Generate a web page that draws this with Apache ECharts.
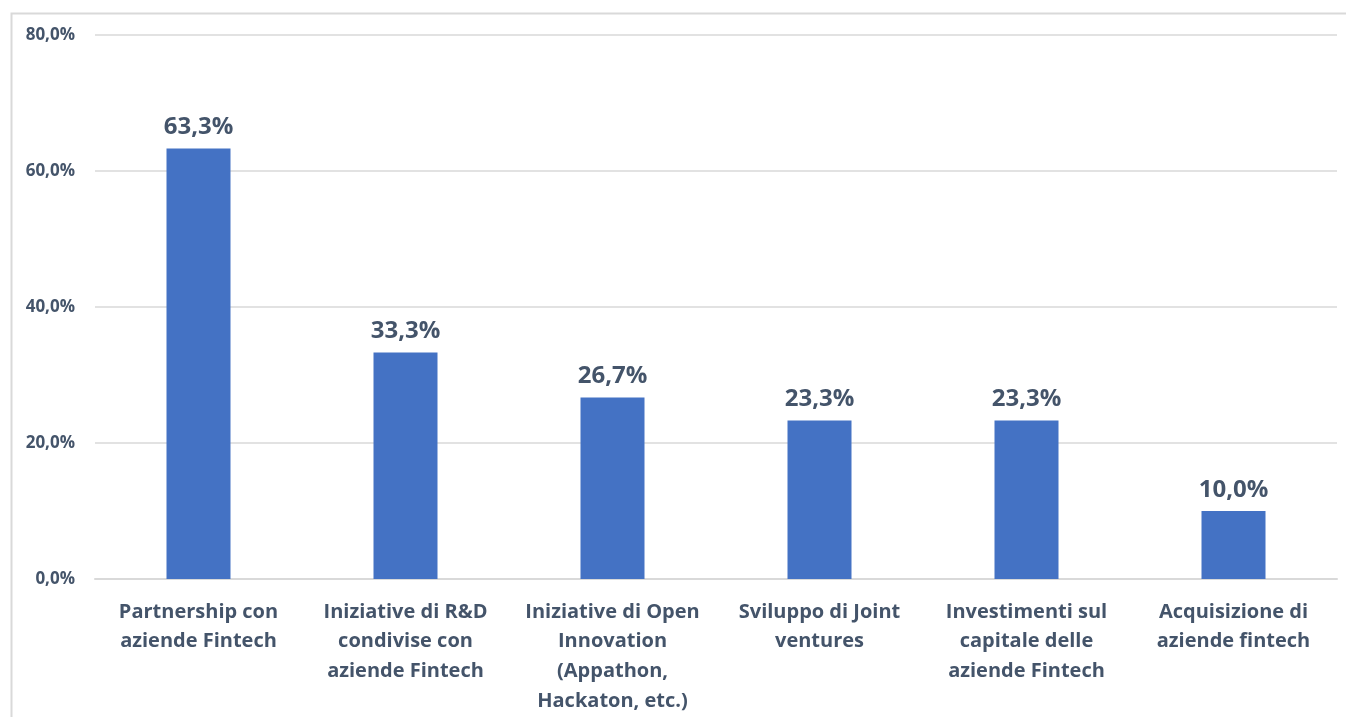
<!DOCTYPE html>
<html><head><meta charset="utf-8">
<script src="https://cdn.jsdelivr.net/npm/echarts@6/dist/echarts.min.js"></script>
<style>html,body{margin:0;padding:0;background:#fff}#c{width:1346px;height:717px}</style>
</head><body><div id="c"></div>
<script>
const categories = [
  "Partnership con\naziende Fintech",
  "Iniziative di R&D\ncondivise con\naziende Fintech",
  "Iniziative di Open\nInnovation\n(Appathon,\nHackaton, etc.)",
  "Sviluppo di Joint\nventures",
  "Investimenti sul\ncapitale delle\naziende Fintech",
  "Acquisizione di\naziende fintech"
];
const values = [63.3, 33.3, 26.7, 23.3, 23.3, 10.0];
const yTicks = [0, 20, 40, 60, 80];

const fmt = v => v.toFixed(1).replace('.', ',') + '%';
const font = '"Open Sans", Lato, sans-serif';
const txt = '#44546a';

const chart = echarts.init(document.getElementById('c'));
chart.setOption({
  animation: false,
  graphic: [{
    type: 'rect', silent: true,
    shape: { x: 11.5, y: 13.5, width: 1400, height: 800 },
    style: { fill: 'none', stroke: '#d9d9d9', lineWidth: 2 }
  }],
  grid: { left: 95, right: 9, top: 35, bottom: 138 },
  xAxis: {
    type: 'category', data: categories,
    axisLine: { lineStyle: { color: '#d9d9d9', width: 2 } },
    axisTick: { show: false },
    axisLabel: { color: txt, fontFamily: font, fontWeight: 'bold', fontSize: 20, lineHeight: 29.7, margin: 18, interval: 0 }
  },
  yAxis: {
    type: 'value', min: yTicks[0], max: yTicks[yTicks.length - 1], interval: 20,
    axisLine: { show: false }, axisTick: { show: false },
    splitLine: { lineStyle: { color: '#d9d9d9', width: 1.5 } },
    axisLabel: { color: txt, fontFamily: font, fontWeight: 'bold', fontSize: 17, margin: 20, formatter: v => fmt(v) }
  },
  series: [{
    type: 'bar', data: values, barWidth: 64,
    itemStyle: { color: '#4472c4' },
    label: { show: true, position: 'top', distance: 9, color: txt, fontFamily: font, fontWeight: 'bold', fontSize: 24, formatter: p => fmt(p.value) }
  }]
});
</script></body></html>
